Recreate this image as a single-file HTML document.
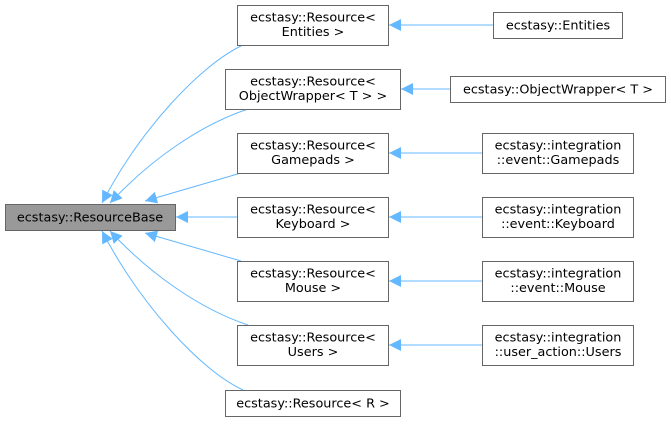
<!DOCTYPE html>
<html><head><style>
html,body{margin:0;padding:0;background:#fff;}
svg text{font-family:"DejaVu Sans","Liberation Sans",sans-serif;font-size:12.8px;fill:#000;}
</style></head><body>
<svg width="671" height="421" viewBox="0 0 671 421" xmlns="http://www.w3.org/2000/svg">
<defs>
<marker id="a" viewBox="0 0 10 10" refX="10" refY="5" markerWidth="12" markerHeight="12" markerUnits="userSpaceOnUse" orient="auto">
<path d="M0,0 L10,5 L0,10 z" fill="#63b8ff"/>
</marker>
</defs>
<g fill="none" stroke="#63b8ff" stroke-width="1" marker-end="url(#a)">
<path d="M243,45 C200,65 140,130 102,203"/>
<path d="M248,109 C200,125 150,160 110,203"/>
<path d="M241,173 L145,201"/>
<path d="M237,217 L176,217"/>
<path d="M241,261 L145,233"/>
<path d="M248,325 C200,309 150,274 110,231"/>
<path d="M243,390 C200,370 140,304 102,231"/>
<path d="M493,25 L389,25"/>
<path d="M450,89 L401,89"/>
<path d="M482,153 L389,153"/>
<path d="M482,217 L389,217"/>
<path d="M482,281 L389,281"/>
<path d="M482,345 L389,345"/>
</g>
<g stroke="#666" stroke-width="1" fill="#fff">
<rect x="5.5" y="204.5" width="170" height="26" fill="#999"/>
<rect x="237.5" y="5.5" width="151" height="40"/>
<rect x="225.5" y="69.5" width="175" height="40"/>
<rect x="237.5" y="133.5" width="151" height="40"/>
<rect x="237.5" y="197.5" width="151" height="40"/>
<rect x="237.5" y="261.5" width="151" height="40"/>
<rect x="237.5" y="325.5" width="151" height="40"/>
<rect x="225.5" y="390.5" width="175" height="26"/>
<rect x="493.5" y="12.5" width="129" height="26"/>
<rect x="450.5" y="76.5" width="215" height="26"/>
<rect x="482.5" y="133.5" width="151" height="40"/>
<rect x="482.5" y="197.5" width="151" height="40"/>
<rect x="482.5" y="261.5" width="151" height="40"/>
<rect x="482.5" y="325.5" width="151" height="40"/>
</g>
<g text-anchor="middle">
<text x="90" y="221.5">ecstasy::ResourceBase</text>
<text x="313" y="21.5">ecstasy::Resource&lt;</text><text x="313" y="36">Entities &gt;</text>
<text x="313" y="85.5">ecstasy::Resource&lt;</text><text x="313" y="100">ObjectWrapper&lt; T &gt; &gt;</text>
<text x="313" y="149.5">ecstasy::Resource&lt;</text><text x="313" y="164">Gamepads &gt;</text>
<text x="313" y="213.5">ecstasy::Resource&lt;</text><text x="313" y="228">Keyboard &gt;</text>
<text x="313" y="277.5">ecstasy::Resource&lt;</text><text x="313" y="292">Mouse &gt;</text>
<text x="313" y="341.5">ecstasy::Resource&lt;</text><text x="313" y="356">Users &gt;</text>
<text x="313" y="407.5">ecstasy::Resource&lt; R &gt;</text>
<text x="558" y="29.5">ecstasy::Entities</text>
<text x="558" y="93.5">ecstasy::ObjectWrapper&lt; T &gt;</text>
<text x="558" y="149.5">ecstasy::integration</text><text x="558" y="164">::event::Gamepads</text>
<text x="558" y="213.5">ecstasy::integration</text><text x="558" y="228">::event::Keyboard</text>
<text x="558" y="277.5">ecstasy::integration</text><text x="558" y="292">::event::Mouse</text>
<text x="558" y="341.5">ecstasy::integration</text><text x="558" y="356">::user_action::Users</text>
</g>
</svg>
</body></html>
